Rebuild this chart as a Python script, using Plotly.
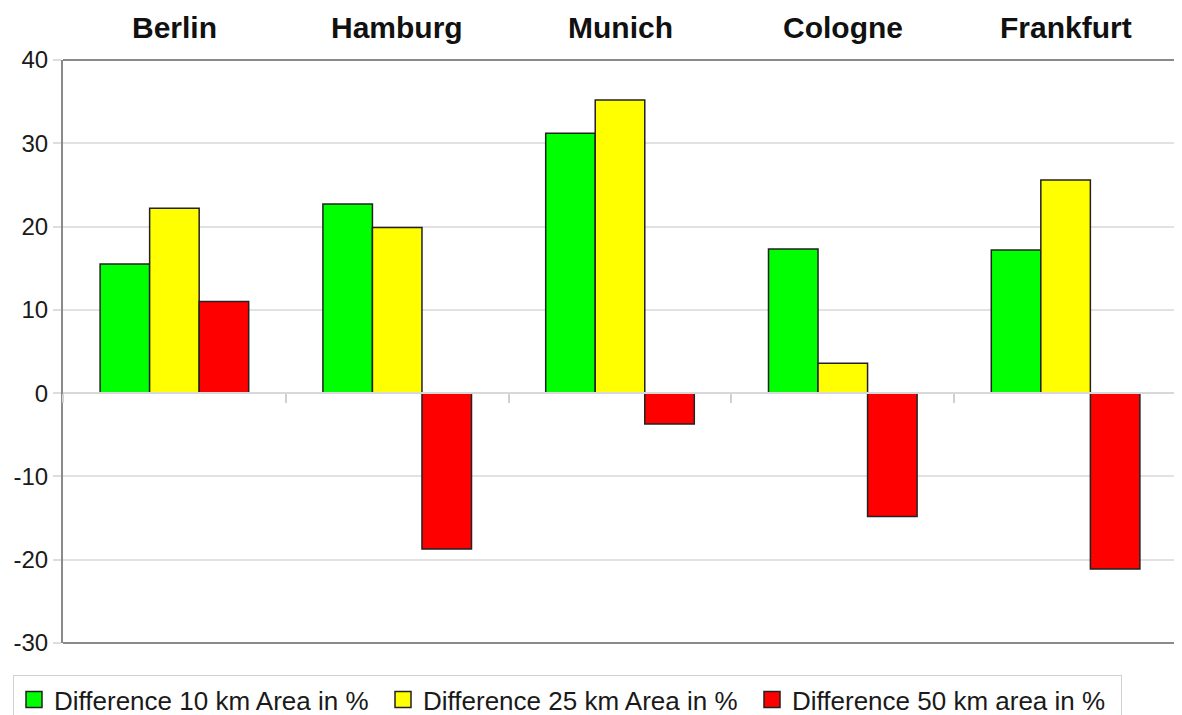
import plotly.graph_objects as go

cities = ["Berlin", "Hamburg", "Munich", "Cologne", "Frankfurt"]
diff_10km = [15.5, 22.7, 31.2, 17.3, 17.2]
diff_25km = [22.2, 19.9, 35.2, 3.6, 25.6]
diff_50km = [11.0, -18.7, -3.7, -14.8, -21.1]
series_names = ["Difference 10 km Area in %", "Difference 25 km Area in %", "Difference 50 km area in %"]
series_colors = ["#00ff00", "#ffff00", "#ff0000"]
y_ticks = [-30, -20, -10, 0, 10, 20, 30, 40]
y_ticktext = [str(v) for v in y_ticks]  # plain hyphen minus

FONT = "Liberation Sans, Arial, sans-serif"

# the page body has an 8px margin, so the figure is sized/offset to compensate
W, H = 1174, 707

fig = go.Figure()
for name, vals, col in zip(series_names, [diff_10km, diff_25km, diff_50km], series_colors):
    fig.add_trace(go.Bar(
        x=cities, y=vals, name=name, showlegend=False,
        marker=dict(color=col, line=dict(color="#222222", width=1.5)),
    ))
    # legend-only entry with a larger square symbol
    fig.add_trace(go.Scatter(
        x=[None], y=[None], name=name, mode="markers",
        marker=dict(symbol="square", size=18, color=col, line=dict(color="#222222", width=1.5)),
    ))

y_min, y_max = -30, 40

fig.update_layout(
    width=W, height=H,
    margin=dict(l=55, r=5, t=52, b=72),
    paper_bgcolor="white", plot_bgcolor="white",
    barmode="group", bargap=0.333, bargroupgap=0,
    font=dict(family=FONT, color="#1a1a1a"),
    showlegend=True,
    legend=dict(
        orientation="h", xref="container", yref="container",
        x=5 / W, xanchor="left", y=1 - 667 / H, yanchor="top",
        font=dict(size=26, family=FONT, color="#1a1a1a"),
        bordercolor="#d0d0d0", borderwidth=1,
        itemwidth=30, tracegroupgap=0,
        entrywidth=324, entrywidthmode="pixels",
    ),
    xaxis=dict(
        type="category",
        anchor="free", position=(0 - y_min) / (y_max - y_min),
        showticklabels=False,
        tickson="boundaries", ticks="outside", ticklen=9, tickcolor="#d0d0d0", tickwidth=2,
        showline=True, linecolor="#d8d8d8", linewidth=1.5,
        showgrid=False, zeroline=False,
    ),
    yaxis=dict(
        range=[y_min, y_max], tickvals=y_ticks, ticktext=y_ticktext,
        showgrid=True, gridcolor="#e2e2e2", gridwidth=1.5,
        zeroline=False,
        showline=True, linecolor="#8a8a8a", linewidth=2,
        ticks="outside", ticklen=8, tickcolor="#dddddd", tickwidth=2,
        tickfont=dict(size=24, family=FONT, color="#1a1a1a"),
    ),
)

# city labels above the plot area
for c in cities:
    fig.add_annotation(
        x=c, y=1, xref="x", yref="paper", yanchor="bottom", yshift=14,
        text="<b>%s</b>" % c, showarrow=False,
        font=dict(size=30, family=FONT, color="#111111"),
    )

# top and bottom frame lines
for yy in (0, 1):
    fig.add_shape(type="line", xref="paper", yref="y domain",
                  x0=0, x1=1.01, y0=yy, y1=yy,
                  line=dict(color="#8a8a8a", width=2), layer="below")

fig.write_html("out.html")
